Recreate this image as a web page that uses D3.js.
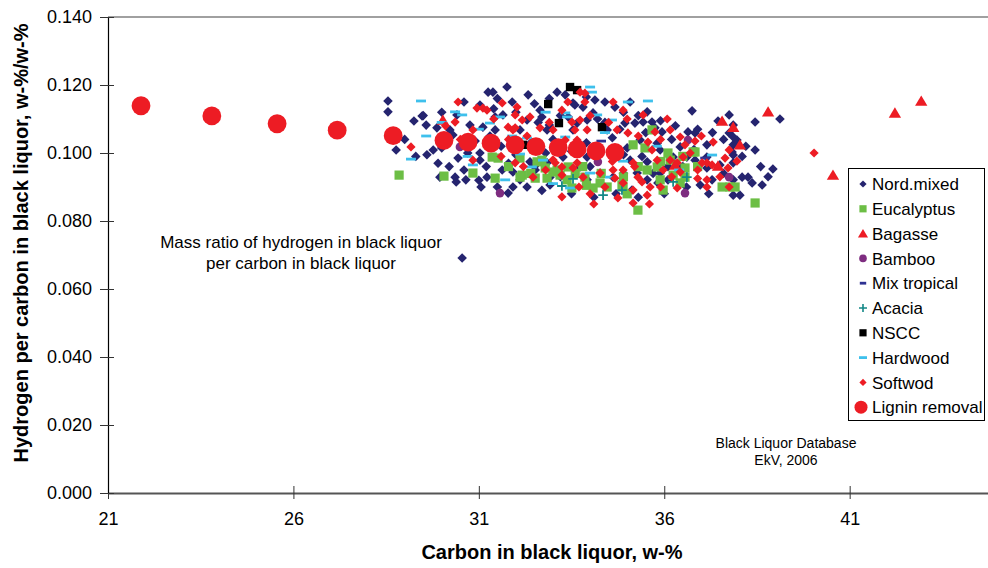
<!DOCTYPE html>
<html><head><meta charset="utf-8">
<script src="https://cdn.jsdelivr.net/npm/d3@7"></script>
<style>body{margin:0;background:#fff}svg{display:block;font-family:"Liberation Sans",Arial,sans-serif}</style>
</head><body><svg id="c" width="988" height="568"></svg>
<script>
// ---------- DATA ----------
const X_TICKS = [21, 26, 31, 36, 41];
const Y_TICKS = [0, 0.02, 0.04, 0.06, 0.08, 0.10, 0.12, 0.14];
const SERIES_NAMES = ["Nord.mixed","Eucalyptus","Bagasse","Bamboo","Mix tropical","Acacia","NSCC","Hardwood","Softwod","Lignin removal"];

const nordMixed = [
[28.55,0.1153],[28.55,0.1121],[29.47,0.1109],[29.25,0.1094],[29.58,0.1082],[29.87,0.1074],[28.77,0.1009],[29.77,0.1009],[30.44,0.0985],[29.95,0.0929],[30.36,0.0929],[30.39,0.0915],[30.65,0.0921],[31.06,0.0900],[31.03,0.1000],[31.03,0.0979],[30.22,0.1068],[30.30,0.1053],[31.03,0.1141],[31.25,0.1179],[30.76,0.1082],[31.11,0.1076],[30.41,0.1112],
[31.76,0.1194],[31.38,0.1179],[32.33,0.1171],[32.65,0.1126],[33.11,0.1179],[33.33,0.1171],[33.54,0.1147],[31.44,0.1106],[31.65,0.1112],[32.30,0.1097],[32.70,0.1106],[33.41,0.1106],[33.65,0.1088],[31.44,0.1068],[32.11,0.1068],[32.84,0.1068],[33.54,0.1068],[31.63,0.0950],[31.22,0.0929],[31.92,0.0944],[31.92,0.0900],[31.79,0.0882],[32.11,0.0921],[32.38,0.0974],[32.52,0.0950],[32.84,0.0971],[32.92,0.0929],[33.27,0.0988],[33.73,0.0959],[33.92,0.0988],
[34.13,0.1156],[34.67,0.1135],[35.54,0.1121],[34.94,0.1088],[35.21,0.1088],[35.43,0.1091],[35.67,0.1091],[35.75,0.1074],[35.94,0.1062],[34.08,0.1118],[33.81,0.1135],[33.92,0.1097],[34.46,0.1068],[35.35,0.1038],[35.81,0.1029],[35.89,0.1009],[36.24,0.0988],[36.61,0.0988],[36.43,0.1018],[35.08,0.0979],[35.54,0.0974],[35.27,0.0941],[35.54,0.0921],[36.10,0.0921],[35.13,0.0891],[35.89,0.0941],[34.27,0.0941],[34.62,0.0929],[33.92,0.0921],[35.83,0.0912],
[36.75,0.1124],[37.75,0.1112],[37.45,0.1094],[37.86,0.1082],[38.45,0.1091],[39.12,0.1100],[36.64,0.1062],[36.83,0.1059],[37.75,0.1059],[37.15,0.1024],[37.86,0.1024],[37.96,0.1038],[38.45,0.1009],[37.83,0.1003],[36.83,0.0979],[37.15,0.0988],[37.86,0.0994],[37.86,0.0971],[38.93,0.0953],[37.15,0.0956],[38.10,0.0929],[37.86,0.0921],[38.26,0.0929],[38.37,0.0912],[38.64,0.0906],[36.97,0.0906],[37.29,0.0921],[37.86,0.0876],[38.04,0.0876],[37.86,0.1047],
[30.55,0.0691],[33.59,0.1141],[35.08,0.1150],[32.92,0.0906],
[30.90,0.1035],[31.60,0.1020],[32.40,0.1030],[33.00,0.1040],[33.90,0.1030],[34.60,0.1045],[35.00,0.1015],[32.00,0.0995],[33.50,0.1005],[34.90,0.0995],[29.60,0.0995],[30.00,0.1015],[31.30,0.1050],[32.90,0.1082],[34.40,0.1090],
[31.50,0.1160],[31.90,0.1150],[32.50,0.1145],[32.90,0.1160],[33.90,0.1165],[34.40,0.1150],[34.90,0.1120],[35.30,0.1110],[35.90,0.1095],[36.30,0.1080],[36.90,0.1070],[37.30,0.1060],[37.60,0.1040],[38.20,0.1020],[38.10,0.0990],[38.60,0.0960],[38.80,0.0930],[37.60,0.0940],[37.20,0.0880],[36.60,0.0900],[36.00,0.0880],[35.30,0.0870],[34.70,0.0880],[34.10,0.0870],[33.50,0.0880],[32.70,0.0890],[32.30,0.0900],[31.50,0.0900],[31.00,0.0920],[30.60,0.0950],[30.20,0.0960],[29.90,0.0970],[29.30,0.0990],[29.00,0.1040],[29.50,0.1110],[30.00,0.1120],[30.60,0.1150],[31.40,0.1130],[32.00,0.1120],[32.60,0.1090],[33.20,0.1110],[34.20,0.1100],[34.80,0.1070],[35.50,0.1060],[36.20,0.1040],[36.80,0.1010],[36.50,0.0960],[35.70,0.0940],[34.90,0.0940],[34.00,0.0960],[33.20,0.0930],[32.50,0.0960],[31.80,0.0970],[31.20,0.0960],[30.70,0.1000],[32.80,0.1000],[34.20,0.0990],[35.40,0.0990],[36.10,0.0960],[37.50,0.0965]
];

const eucalyptus = [
[28.85,0.0935],[30.06,0.0932],[30.84,0.0941],[31.36,0.0988],[31.52,0.0985],[32.11,0.0985],[32.17,0.0935],[32.52,0.0926],[32.57,0.0974],[32.70,0.0979],[33.00,0.0944],[33.19,0.0935],[33.41,0.0959],[31.44,0.0926],[32.11,0.0929],[32.79,0.0956],[32.84,0.0926],[33.38,0.0921],[33.51,0.0897],[33.86,0.0929],[33.11,0.0950],[35.67,0.1068],[35.48,0.1015],[36.10,0.1000],[36.16,0.0979],[35.81,0.0959],[35.89,0.0921],[36.43,0.0912],[34.27,0.0912],[34.46,0.0900],[34.89,0.0900],[35.29,0.0832],[35.54,0.0950],[34.08,0.0897],[34.86,0.0906],[35.97,0.0891],[36.24,0.0935],[36.56,0.0956],[36.78,0.1003],[38.45,0.0853],[37.77,0.0900],[37.56,0.0900],[35.16,0.1024],[36.83,0.1003],[36.56,0.0929],[37.91,0.0900],
[33.80,0.0960],[34.30,0.0940],[34.90,0.0930],[35.30,0.0960],[35.90,0.0975],[36.50,0.0990],[33.60,0.0940],[32.40,0.0940],[31.80,0.0960],[36.90,0.0960],[35.00,0.0880],[33.90,0.0905]
];

const bagasse = [
[30.03,0.1097],[36.29,0.0965],[37.45,0.0962],[37.56,0.1094],[37.86,0.1076],[38.04,0.1024],[38.80,0.1121],[40.55,0.0935],[42.22,0.1118],[42.93,0.1153]
];

const bamboo = [
[31.57,0.0882],[34.21,0.0974],[36.64,0.1038],[36.56,0.0882],[37.75,0.0929],[30.49,0.1018]
];

const mixTropical = [
[32.00,0.1015],[34.30,0.1035],[37.10,0.0985]
];

const acacia = [
[33.24,0.0903],[33.54,0.0924],[34.35,0.0876],[34.86,0.0891],[36.24,0.0915],[36.61,0.0929]
];

const nscc = [
[32.87,0.1144],[33.46,0.1194],[33.65,0.1185],[33.16,0.1088],[34.32,0.1076],[32.19,0.1024]
];

const hardwood = [
[29.44,0.1153],[30.36,0.1121],[30.55,0.1112],[29.58,0.1050],[29.17,0.0982],[31.30,0.1088],[31.57,0.1106],[30.84,0.0965],[32.11,0.0997],[32.30,0.1044],[32.43,0.0959],[32.73,0.0979],[33.38,0.1106],[33.33,0.1047],[33.46,0.0897],[34.00,0.1194],[34.05,0.1179],[35.02,0.1150],[35.56,0.1153],[33.33,0.1118],[34.19,0.1112],[34.59,0.1097],[34.89,0.0976],[34.00,0.0941],[34.54,0.0929],[37.29,0.0994],[31.71,0.0921],
[30.00,0.1090],[31.00,0.1070],[31.90,0.1050],[32.80,0.1120],[33.60,0.1000],[34.40,0.1060],[35.80,0.1020],[36.40,0.0950],[30.70,0.0990],[33.00,0.0910]
];

const softwood = [
[30.44,0.1150],[30.36,0.1091],[29.17,0.1018],[30.84,0.0979],[30.95,0.1132],[31.11,0.1132],[30.84,0.1068],[31.22,0.1126],[31.63,0.1147],[32.03,0.1135],[31.98,0.1112],[32.17,0.1097],[32.38,0.1106],[31.79,0.1076],[31.98,0.1074],[32.65,0.1074],[33.00,0.1068],[33.24,0.1126],[33.51,0.1091],[33.65,0.1038],[33.33,0.1038],[31.98,0.0971],[32.46,0.0929],[33.06,0.0971],[33.24,0.0935],[33.24,0.0871],[33.65,0.0971],[31.92,0.1068],[33.73,0.1179],[33.73,0.1097],[33.92,0.1068],[33.59,0.1068],[33.24,0.0959],[33.54,0.0956],[33.86,0.1150],[34.62,0.1150],[35.43,0.1112],[36.08,0.1100],[35.75,0.1062],[36.16,0.1068],[36.43,0.1047],[36.56,0.1024],[35.56,0.1032],[35.02,0.1059],[34.73,0.1068],[35.67,0.1009],[35.81,0.0979],[36.16,0.0979],[36.35,0.0971],[35.97,0.0950],[36.43,0.0944],[35.16,0.0971],[34.89,0.0950],[34.62,0.0950],[34.27,0.0941],[33.81,0.0929],[34.67,0.0926],[35.29,0.0929],[35.40,0.0915],[34.89,0.0912],[35.16,0.0891],[35.62,0.0900],[36.35,0.0897],[34.75,0.0868],[35.16,0.0853],[35.54,0.0876],[37.32,0.1032],[36.83,0.1035],[37.64,0.0985],[37.75,0.1009],[37.96,0.0976],[37.72,0.0956],[37.15,0.0971],[37.02,0.0971],[37.29,0.0965],[37.15,0.0921],[37.15,0.0900],[37.75,0.0900],[36.51,0.0988],[33.86,0.1176],[34.89,0.1126],[40.04,0.1000],
[31.40,0.1100],[31.80,0.1040],[32.30,0.1050],[32.90,0.1090],[33.40,0.1150],[34.00,0.1110],[34.50,0.1090],[35.00,0.1100],[35.30,0.1050],[35.90,0.1040],[36.70,0.1000],[37.00,0.1050],[36.90,0.0950],[36.20,0.0930],[35.90,0.0900],[34.40,0.0900],[34.00,0.0880],[33.70,0.0900],[32.80,0.0950],[32.20,0.0960],[31.60,0.0990],[30.50,0.1040],[30.10,0.1080],[33.00,0.0980],[34.60,0.0975],[35.20,0.0960],[36.90,0.0925],[37.50,0.0930],[34.10,0.0850],[35.60,0.0850]
];

const ligninRemoval = [
[21.89,0.1139],[23.80,0.1109],[25.56,0.1086],[27.18,0.1067],[28.69,0.1051],[30.06,0.1037],[30.71,0.1032],[31.33,0.1029],[31.98,0.1024],[32.54,0.1019],[33.14,0.1016],[33.65,0.1012],[34.16,0.1006],[34.67,0.1002]
];

const ANNOTATION = ["Mass ratio of hydrogen in black liquor", "per carbon in black liquor"];
const SOURCE = ["Black Liquor Database", "EkV, 2006"];

// ---------- STYLE / LAYOUT ----------
const shapes = {
  diamond: s => `M0,${-s}L${s},0L0,${s}L${-s},0Z`,
  square: s => `M${-s},${-s}h${2*s}v${2*s}h${-2*s}Z`,
  triangle: s => `M0,${-s}L${s*1.1},${s*0.85}L${-s*1.1},${s*0.85}Z`,
  circle: s => `M${s},0A${s},${s},0,1,1,${-s},0A${s},${s},0,1,1,${s},0Z`,
  dash: s => `M${-s},-1.4h${2*s}v2.8h${-2*s}Z`,
  plus: s => `M${-s},0H${s}M0,${-s}V${s}`
};
const seriesCfg = [
  {data: nordMixed,    shape:"diamond",  color:"#25246f", size:4.8, leg:3.6},
  {data: eucalyptus,   shape:"square",   color:"#6cbe45", size:4.6, leg:3.6},
  {data: bagasse,      shape:"triangle", color:"#ed1c24", size:5.6, leg:4.6},
  {data: bamboo,       shape:"circle",   color:"#7e2d80", size:4.3, leg:3.8},
  {data: mixTropical,  shape:"dash",     color:"#2e3192", size:4.8, leg:3.2},
  {data: acacia,       shape:"plus",     color:"#138887", size:4.8, leg:4.0},
  {data: nscc,         shape:"square",   color:"#000000", size:4.2, leg:3.6},
  {data: hardwood,     shape:"dash",     color:"#3ec0ec", size:5.0, leg:4.0},
  {data: softwood,     shape:"diamond",  color:"#ed1c24", size:4.6, leg:3.6},
  {data: ligninRemoval,shape:"circle",   color:"#ed1c24", size:9.4, leg:6.5}
];

const svg = d3.select("#c");
const x = d3.scaleLinear().domain([21, 45]).range([108, 998]);
const y = d3.scaleLinear().domain([0, 0.14]).range([493, 17]);

// top border line
svg.append("line").attr("x1", 108).attr("x2", 988).attr("y1", y(0.14)).attr("y2", y(0.14))
  .attr("stroke", "#808080").attr("stroke-width", 1.5);

// x axis
const gx = svg.append("g").attr("transform", `translate(0,${y(0)})`)
  .call(d3.axisBottom(x).tickValues(X_TICKS).tickFormat(d3.format("d")).tickSizeOuter(0).tickSizeInner(6).tickPadding(13));
gx.select(".domain").attr("stroke", "#555").attr("stroke-width", 2);
gx.selectAll(".tick line").attr("y1", -7).attr("y2", 6).attr("stroke", "#333");
gx.selectAll(".tick text").attr("font-size", 18).attr("font-family", "Liberation Sans, Arial, sans-serif").attr("fill", "#000");

// y axis
const gy = svg.append("g").attr("transform", `translate(108,0)`)
  .call(d3.axisLeft(y).tickValues(Y_TICKS).tickFormat(d3.format(".3f")).tickSizeOuter(0).tickSizeInner(7).tickPadding(9));
gy.select(".domain").attr("stroke", "#000").attr("stroke-width", 1.2);
gy.selectAll(".tick line").attr("x1", 6).attr("x2", -8).attr("stroke", "#333");
gy.selectAll(".tick text").attr("font-size", 18).attr("font-family", "Liberation Sans, Arial, sans-serif").attr("fill", "#000");

// markers
const plot = svg.append("g");
seriesCfg.forEach(s => {
  const isStroke = s.shape === "plus";
  plot.append("g").selectAll("path").data(s.data).join("path")
    .attr("d", shapes[s.shape](s.size))
    .attr("transform", d => `translate(${x(d[0])},${y(d[1])})`)
    .attr("fill", isStroke ? "none" : s.color)
    .attr("stroke", isStroke ? s.color : "none")
    .attr("stroke-width", isStroke ? 1.8 : 0);
});

// axis titles
svg.append("text").attr("x", 552).attr("y", 559).attr("text-anchor", "middle")
  .attr("font-size", 20).attr("font-weight", "bold").text("Carbon in black liquor, w-%");
svg.append("text").attr("transform", "translate(28,243) rotate(-90)").attr("text-anchor", "middle")
  .attr("font-size", 20).attr("font-weight", "bold").text("Hydrogen per carbon in black liquor, w-%/w-%");

// annotation
ANNOTATION.forEach((t, i) => {
  svg.append("text").attr("x", 301).attr("y", 248 + i * 21).attr("text-anchor", "middle")
    .attr("font-size", 17).text(t);
});
SOURCE.forEach((t, i) => {
  svg.append("text").attr("x", 786).attr("y", 448 + i * 17).attr("text-anchor", "middle")
    .attr("font-size", 14).text(t);
});

// legend
const lg = svg.append("g");
lg.append("rect").attr("x", 848.5).attr("y", 168.5).attr("width", 136).attr("height", 252)
  .attr("fill", "#fff").attr("stroke", "#000").attr("stroke-width", 1);
seriesCfg.forEach((s, i) => {
  const cy = 184 + i * 24.8;
  const isStroke = s.shape === "plus";
  lg.append("path").attr("d", shapes[s.shape](s.leg))
    .attr("transform", `translate(${s.shape==="circle" && s.leg>5 ? 861 : 863},${cy})`)
    .attr("fill", isStroke ? "none" : s.color)
    .attr("stroke", isStroke ? s.color : "none").attr("stroke-width", 1.6);
  lg.append("text").attr("x", 872).attr("y", cy).attr("dy", "0.36em")
    .attr("font-size", 17).text(SERIES_NAMES[i]);
});
</script>
</body></html>
